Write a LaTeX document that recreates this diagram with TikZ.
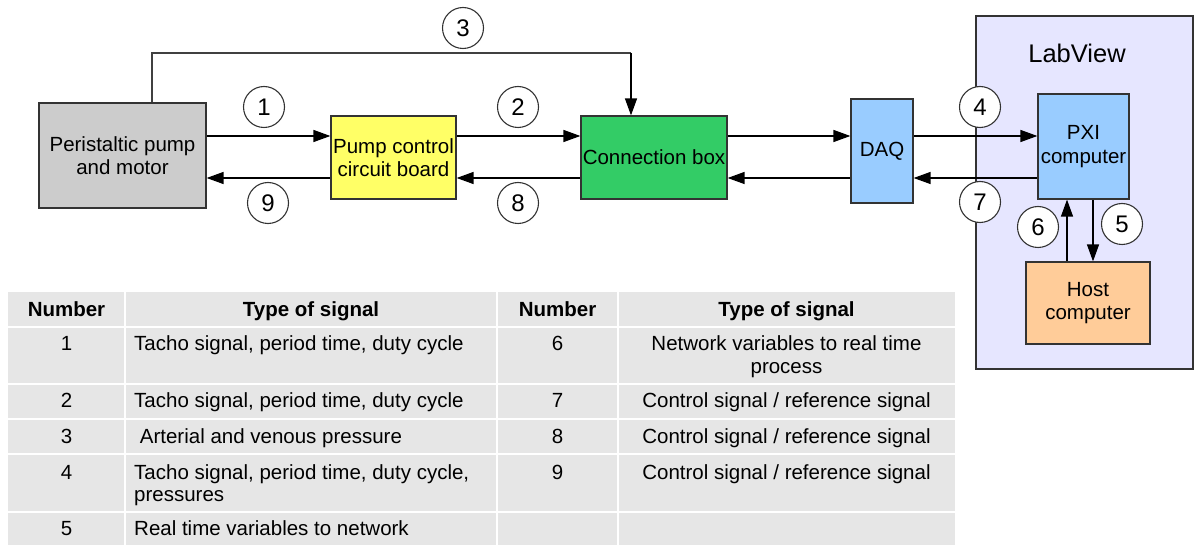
\documentclass[tikz,border=0pt]{standalone}
\usepackage{fontspec}
\setmainfont{Liberation Sans}
\usepackage{tikz}
\usetikzlibrary{arrows.meta}
\definecolor{pumpgrey}{HTML}{CCCCCC}
\definecolor{boardyellow}{HTML}{FFFF66}
\definecolor{boxgreen}{HTML}{33CC66}
\definecolor{daqblue}{HTML}{99CCFF}
\definecolor{lvlilac}{HTML}{E6E6FF}
\definecolor{hostorange}{HTML}{FFCC99}
\definecolor{tablegrey}{HTML}{E6E6E6}
\pgfdeclarelayer{backlayer}
\pgfdeclarelayer{edgelayer}
\pgfdeclarelayer{nodelayer}
\pgfsetlayers{backlayer,edgelayer,nodelayer,main}
\tikzstyle{none}=[inner sep=0pt]
\tikzstyle{block}=[rectangle,draw=black!80,line width=1.2,inner sep=0pt,align=center,font=\fontsize{20.5}{23.5}\selectfont]
\tikzstyle{pump}=[block,fill=pumpgrey,minimum width=167pt,minimum height=105pt]
\tikzstyle{board}=[block,fill=boardyellow,minimum width=125pt,minimum height=83pt]
\tikzstyle{connbox}=[block,fill=boxgreen,minimum width=146pt,minimum height=83pt]
\tikzstyle{daq}=[block,fill=daqblue,minimum width=62pt,minimum height=104pt]
\tikzstyle{pxi}=[block,fill=daqblue,minimum width=91pt,minimum height=105pt]
\tikzstyle{host}=[block,fill=hostorange,minimum width=124pt,minimum height=82pt]
\tikzstyle{labview}=[block,fill=lvlilac,minimum width=217pt,minimum height=353pt]
\tikzstyle{signum}=[circle,draw=black!80,fill=white,line width=1.1,minimum size=41pt,inner sep=0pt,font=\fontsize{24}{24}\selectfont]
\tikzstyle{inarrow}=[-{Triangle[length=17pt,width=12pt]},line width=1.3]
\tikzstyle{simple}=[-,line width=1.3,draw=black!75]
\tikzstyle{cell}=[inner sep=0pt,font=\fontsize{20.5}{23.5}\selectfont]
\tikzstyle{head}=[inner sep=0pt,font=\fontsize{20.5}{23.5}\selectfont\bfseries]
\tikzstyle{grid}=[-,draw=white,line width=2]

\begin{document}
\begin{tikzpicture}[x=1pt,y=-1pt]
	\useasboundingbox (0,0) rectangle (1195,545);
	\begin{pgfonlayer}{backlayer}
		\node [style=labview] (lv) at (1084.5, 192.5) {};
		\fill [tablegrey] (8,292) rectangle (955,545);
		\draw [style=grid] (125,292) to (125,545);
		\draw [style=grid] (497,292) to (497,545);
		\draw [style=grid] (618,292) to (618,545);
		\draw [style=grid] (8,327) to (955,327);
		\draw [style=grid] (8,384) to (955,384);
		\draw [style=grid] (8,419) to (955,419);
		\draw [style=grid] (8,454) to (955,454);
		\draw [style=grid] (8,512) to (955,512);
	\end{pgfonlayer}
	\begin{pgfonlayer}{nodelayer}
		\node [style=pump] (pump) at (122.5, 155.5) {Peristaltic pump\\and motor};
		\node [style=board] (board) at (393.5, 157.5) {Pump control\\circuit board};
		\node [style=connbox] (conn) at (654, 157.5) {Connection box};
		\node [style=daq] (daq) at (882, 151) {DAQ};
		\node [style=pxi] (pxi) at (1083.5, 146.5) {PXI\\computer};
		\node [style=host] (host) at (1088, 303) {Host\\computer};
		\node [style=none,font=\fontsize{25.5}{25.5}\selectfont] (lvtitle) at (1077, 53) {LabView};

		\node [style=signum] (s1) at (264, 107) {1};
		\node [style=signum] (s2) at (518, 107) {2};
		\node [style=signum] (s3) at (463, 28) {3};
		\node [style=signum] (s4) at (980, 107) {4};
		\node [style=signum] (s5) at (1122, 224) {5};
		\node [style=signum] (s6) at (1038, 227) {6};
		\node [style=signum] (s7) at (980, 202) {7};
		\node [style=signum] (s8) at (518, 203) {8};
		\node [style=signum] (s9) at (268, 203) {9};

		\coordinate (up) at (0, 136);
		\coordinate (down) at (0, 178);
		\coordinate (ltop) at (152, 53);
		\coordinate (rtop) at (631, 53);
		\coordinate (c5) at (1093, 0);
		\coordinate (c6) at (1067, 0);

		% table
		\node [style=head,anchor=base] (h1) at (66.5, 317) {Number};
		\node [style=head,anchor=base] (h2) at (311, 317) {Type of signal};
		\node [style=head,anchor=base] (h3) at (557.5, 317) {Number};
		\node [style=head,anchor=base] (h4) at (786.5, 317) {Type of signal};

		\node [style=cell,anchor=base] (n1) at (66.5, 351) {1};
		\node [style=cell,anchor=base] (n2) at (66.5, 408) {2};
		\node [style=cell,anchor=base] (n3) at (66.5, 443) {3};
		\node [style=cell,anchor=base] (n4) at (66.5, 479) {4};
		\node [style=cell,anchor=base] (n5) at (66.5, 535) {5};
		\node [style=cell,anchor=base west] (t1) at (134, 351) {Tacho signal, period time, duty cycle};
		\node [style=cell,anchor=base west] (t2) at (134, 408) {Tacho signal, period time, duty cycle};
		\node [style=cell,anchor=base west] (t3) at (139.7, 443) {Arterial and venous pressure};
		\node [style=cell,anchor=base west] (t4) at (134, 479) {Tacho signal, period time, duty cycle,};
		\node [style=cell,anchor=base west] (t4b) at (134, 501) {pressures};
		\node [style=cell,anchor=base west] (t5) at (134, 535) {Real time variables to network};

		\node [style=cell,anchor=base] (n6) at (557.5, 351) {6};
		\node [style=cell,anchor=base] (n7) at (557.5, 408) {7};
		\node [style=cell,anchor=base] (n8) at (557.5, 443) {8};
		\node [style=cell,anchor=base] (n9) at (557.5, 479) {9};
		\node [style=cell,anchor=base] (t6) at (786.5, 351) {Network variables to real time};
		\node [style=cell,anchor=base] (t6b) at (786.5, 374) {process};
		\node [style=cell,anchor=base] (t7) at (786.5, 408) {Control signal / reference signal};
		\node [style=cell,anchor=base] (t8) at (786.5, 443) {Control signal / reference signal};
		\node [style=cell,anchor=base] (t9) at (786.5, 479) {Control signal / reference signal};
	\end{pgfonlayer}
	\begin{pgfonlayer}{edgelayer}
		\draw [style=inarrow] (pump.east |- up) to (board.west |- up);
		\draw [style=inarrow] (board.east |- up) to (conn.west |- up);
		\draw [style=inarrow] (conn.east |- up) to (daq.west |- up);
		\draw [style=inarrow] (daq.east |- up) to (pxi.west |- up);
		\draw [style=inarrow] (pxi.west |- down) to (daq.east |- down);
		\draw [style=inarrow] (daq.west |- down) to (conn.east |- down);
		\draw [style=inarrow] (conn.west |- down) to (board.east |- down);
		\draw [style=inarrow] (board.west |- down) to (pump.east |- down);
		\draw [style=simple] (pump.north -| ltop) to (ltop) to (rtop);
		\draw [style=inarrow] (rtop) to (conn.north -| rtop);
		\draw [style=inarrow] (pxi.south -| c5) to (host.north -| c5);
		\draw [style=inarrow] (host.north -| c6) to (pxi.south -| c6);
	\end{pgfonlayer}
\end{tikzpicture}
\end{document}
